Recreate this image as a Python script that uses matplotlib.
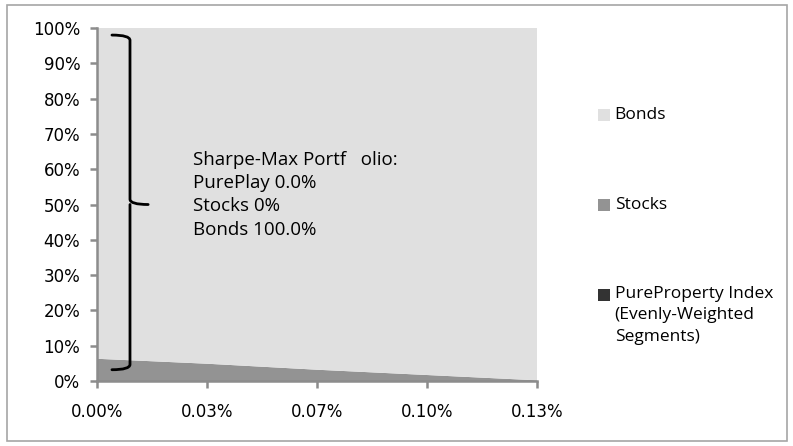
import matplotlib
matplotlib.use("Agg")
import matplotlib.pyplot as plt
from matplotlib.path import Path
from matplotlib.patches import PathPatch, Rectangle
import numpy as np

# risk-aversion grid (category axis) and stacked weights in %
x_labels = ["0.00%", "0.03%", "0.07%", "0.10%", "0.13%"]
pureplay = [0.0, 0.0, 0.0, 0.0, 0.0]
stocks = [6.3, 4.9, 3.2, 1.7, 0.2]
bonds = [100 - s - p for s, p in zip(stocks, pureplay)]

series_names = ["PureProperty Index\n(Evenly-Weighted\nSegments)", "Stocks", "Bonds"]
series_colors = ["#333333", "#939393", "#e0e0e0"]

sharpe_max = {"PurePlay": 0.0, "Stocks": 0, "Bonds": 100.0}

fig = plt.figure(figsize=(7.93, 4.46), dpi=100)
fig.patches.append(Rectangle((0.009, 0.012), 0.983, 0.977, transform=fig.transFigure,
                             fill=False, edgecolor="#a6a6a6", linewidth=1.2))

ax = fig.add_axes([0.1223, 0.1457, 0.555, 0.7915])
xs = np.arange(len(x_labels))
polys = ax.stackplot(xs, pureplay, stocks, bonds, colors=series_colors, linewidth=0)

ax.set_xlim(xs[0], xs[-1])
ax.set_ylim(0, 100)
ax.set_xticks(xs)
ax.set_xticklabels(x_labels)
ax.set_yticks(np.arange(0, 101, 10))
ax.set_yticklabels([f"{v}%" for v in range(0, 101, 10)])
for side in ["top", "right"]:
    ax.spines[side].set_visible(False)
for side in ["left", "bottom"]:
    ax.spines[side].set_color("#8c8c8c")
    ax.spines[side].set_linewidth(1.8)
ax.tick_params(axis="both", colors="#8c8c8c", width=1.8, length=5, direction="out",
               labelcolor="black", labelsize=12)
ax.tick_params(axis="x", pad=11)
ax.tick_params(axis="y", pad=7)
for lab in ax.get_xticklabels() + ax.get_yticklabels():
    lab.set_family("DejaVu Sans")

# curly brace marking the full allocation
x0, x1, x2 = 0.136, 0.30, 0.465
yt, ym, yb = 98.0, 50.0, 3.2
verts = [(x0, yt), (x1, yt), (x1, yt - 1.5),
         (x1, ym + 1.5), (x1, ym), (x2, ym),
         (x1, ym), (x1, ym - 1.5),
         (x1, yb + 1.5), (x1, yb), (x0, yb)]
codes = [Path.MOVETO, Path.CURVE3, Path.CURVE3,
         Path.LINETO, Path.CURVE3, Path.CURVE3,
         Path.MOVETO, Path.CURVE3,
         Path.LINETO, Path.CURVE3, Path.CURVE3]
ax.add_patch(PathPatch(Path(verts, codes), fill=False, edgecolor="black", linewidth=2.0,
                       capstyle="round"))

note = ("Sharpe-Max Portf   olio:\n"
        f"PurePlay {sharpe_max['PurePlay']:.1f}%\n"
        f"Stocks {sharpe_max['Stocks']:.0f}%\n"
        f"Bonds {sharpe_max['Bonds']:.1f}%")
ax.text(0.87, 65.2, note, fontsize=13.5, family="Open Sans", va="top", ha="left",
        linespacing=1.38)

# legend entries, top to bottom: Bonds, Stocks, PureProperty
leg_y = [0.741, 0.539, 0.339]
for name, color, yy in zip(series_names[::-1], series_colors[::-1], leg_y):
    fig.patches.append(Rectangle((0.754, yy - 0.013), 0.0155, 0.027, transform=fig.transFigure,
                                 facecolor=color, edgecolor="none"))
    fig.text(0.775, yy + 0.02, name, fontsize=12.5, family="Open Sans", va="top", ha="left",
             linespacing=1.45)

fig.savefig("out.png", dpi=100)
